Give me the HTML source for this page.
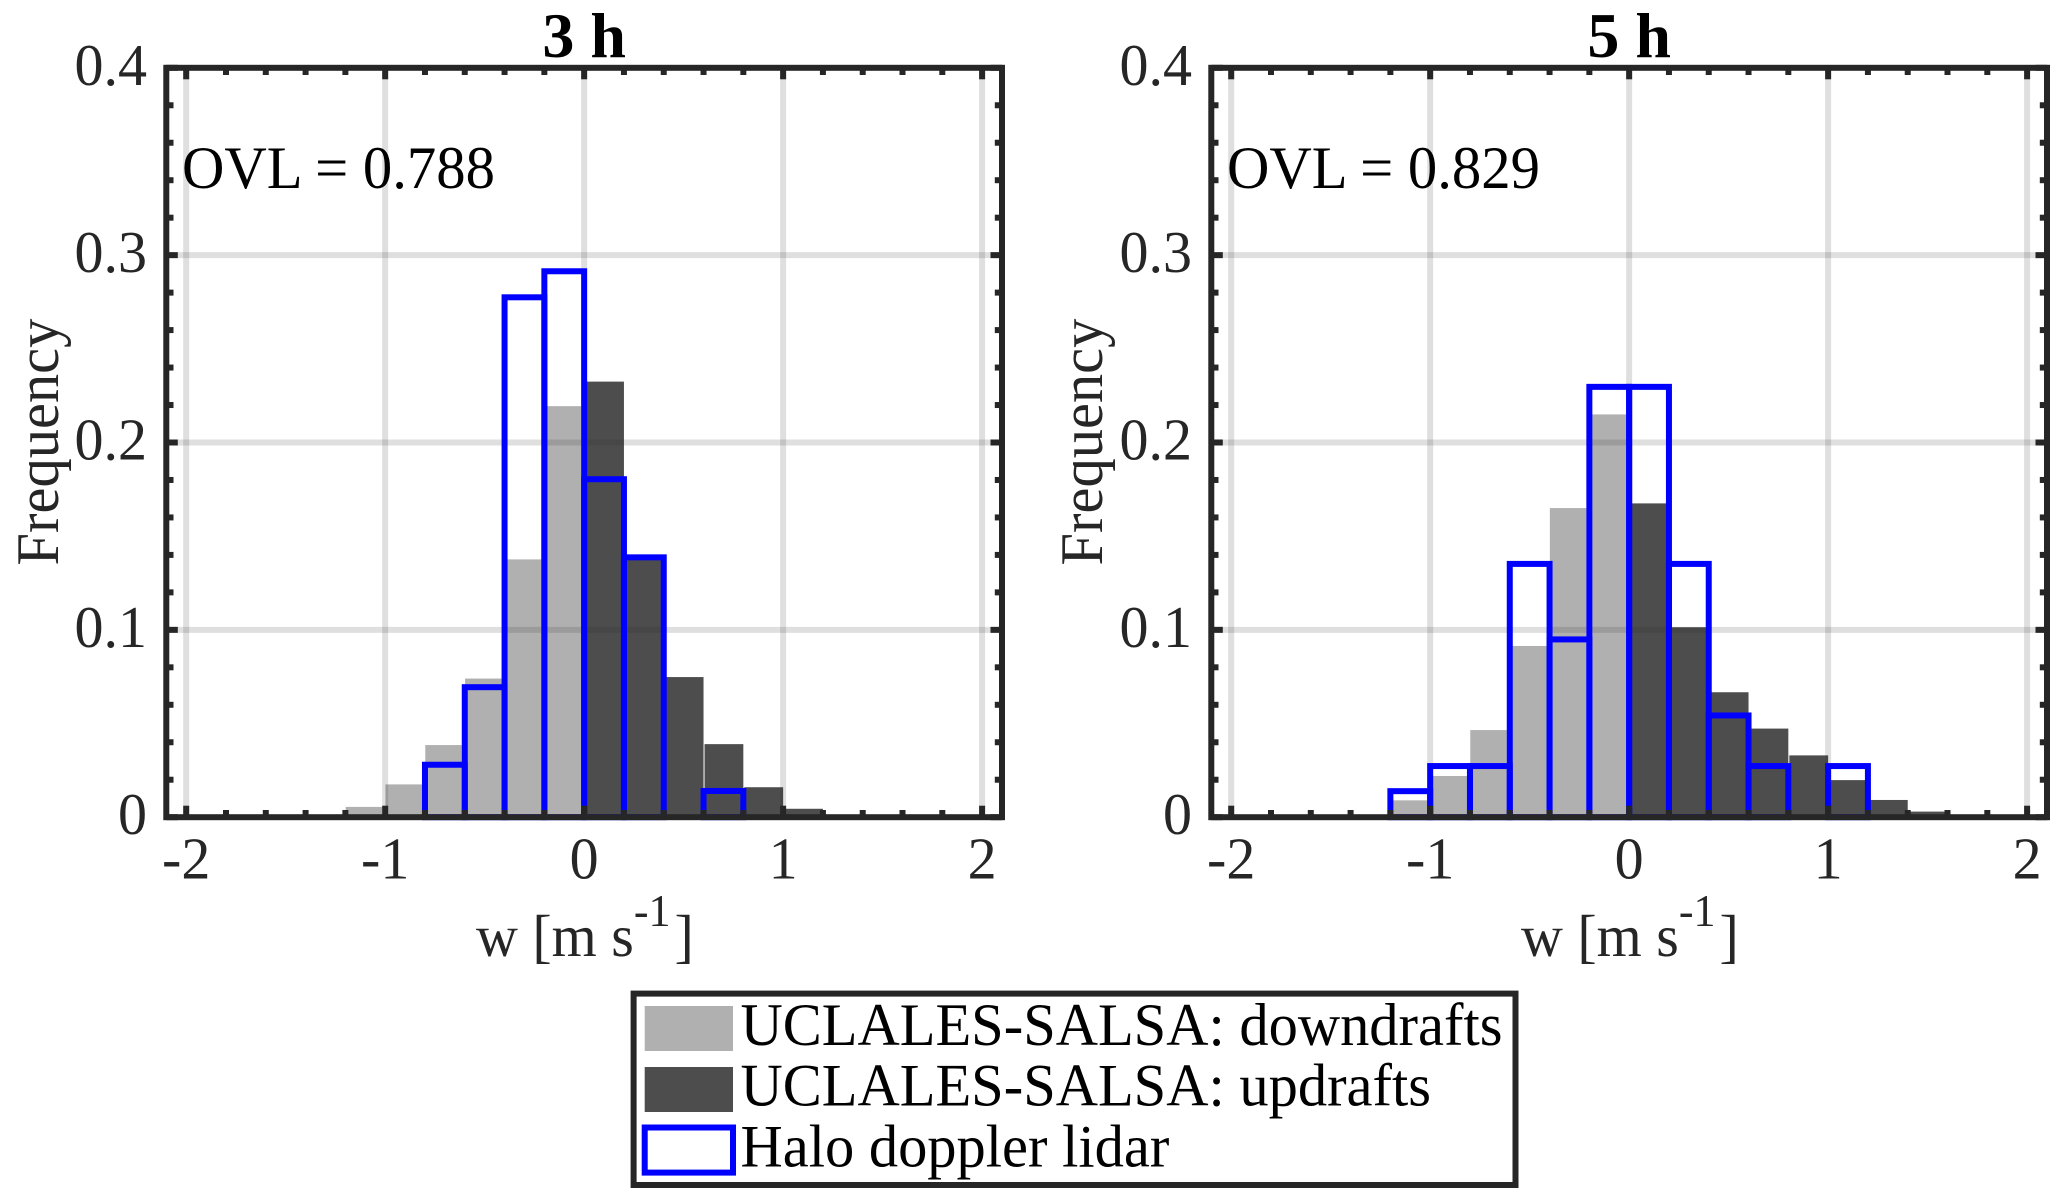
<!DOCTYPE html>
<html lang="en">
<head>
<meta charset="utf-8">
<title>Vertical velocity histograms</title>
<style>
html,body{margin:0;padding:0;background:#fff;}
svg{display:block;font-family:"Liberation Serif","DejaVu Serif",serif;}
</style>
</head>
<body>
<svg id="figure" xmlns="http://www.w3.org/2000/svg" width="2067" height="1199" viewBox="0 0 2067 1199">
  <rect x="0" y="0" width="2067" height="1199" fill="#ffffff"/>
  <g id="panels"></g>
  <g>
    <rect x="633.6" y="993.6" width="881.9" height="191.4" fill="#ffffff" stroke="#262626" stroke-width="6"/>
    <g>
      <rect x="644.7" y="1006" width="88.3" height="45" fill="#b0b0b0"/>
      <text transform="translate(740.5 1045) scale(1 1.03)" font-size="58.5" fill="#000000">UCLALES-SALSA: downdrafts</text>
    </g>
    <g>
      <rect x="644.7" y="1067" width="88.3" height="45" fill="#4d4d4d"/>
      <text transform="translate(740.5 1105.5) scale(1 1.03)" font-size="58.5" fill="#000000">UCLALES-SALSA: updrafts</text>
    </g>
    <g>
      <rect x="644.7" y="1127.5" width="88.3" height="45.1" fill="#ffffff" stroke="#0000ff" stroke-width="6"/>
      <text transform="translate(740.5 1166.5) scale(1 1.03)" font-size="58.5" fill="#000000">Halo doppler lidar</text>
    </g>
  </g>
</svg>
<script>
// ---- Chart data ----
const binEdges = [-2, -1.8, -1.6, -1.4, -1.2, -1, -0.8, -0.6, -0.4, -0.2, 0, 0.2, 0.4, 0.6, 0.8, 1, 1.2, 1.4, 1.6, 1.8, 2];
const panelTitles = ['3 h', '5 h'];
const ovlLabels = ['OVL = 0.788', 'OVL = 0.829'];
const down3h  = [0, 0, 0, 0, 0.0055, 0.0175, 0.0385, 0.074, 0.1376, 0.2194, 0, 0, 0, 0, 0, 0, 0, 0, 0, 0];
const up3h    = [0, 0, 0, 0, 0, 0, 0, 0, 0, 0, 0.2325, 0.1376, 0.0748, 0.039, 0.016, 0.0045, 0, 0, 0, 0];
const lidar3h = [0, 0, 0, 0, 0, 0, 0.028, 0.0694, 0.2775, 0.2914, 0.1804, 0.1387, 0, 0.014, 0, 0, 0, 0, 0, 0];
const down5h  = [0, 0, 0, 0.001, 0.009, 0.022, 0.0465, 0.0914, 0.165, 0.215, 0, 0, 0, 0, 0, 0, 0, 0, 0, 0];
const up5h    = [0, 0, 0, 0, 0, 0, 0, 0, 0, 0, 0.1675, 0.1014, 0.0667, 0.0473, 0.033, 0.0198, 0.0092, 0.003, 0, 0];
const lidar5h = [0, 0, 0, 0, 0.0139, 0.0273, 0.0273, 0.1352, 0.0949, 0.2297, 0.2297, 0.1352, 0.0543, 0.0273, 0, 0.0273, 0, 0, 0, 0];
const xTickValues = [-2, -1, 0, 1, 2];
const xTickLabels = ['-2', '-1', '0', '1', '2'];
const yTickValues = [0, 0.1, 0.2, 0.3, 0.4];
const yTickLabels = ['0', '0.1', '0.2', '0.3', '0.4'];
const xMinorTicks = [-1.8, -1.6, -1.4, -1.2, -0.8, -0.6, -0.4, -0.2, 0.2, 0.4, 0.6, 0.8, 1.2, 1.4, 1.6, 1.8];
const yMinorTicks = [0.02, 0.04, 0.06, 0.08, 0.12, 0.14, 0.16, 0.18, 0.22, 0.24, 0.26, 0.28, 0.32, 0.34, 0.36, 0.38];
const yLabelText = 'Frequency';

// ---- Axis functions ----
const NS = 'http://www.w3.org/2000/svg';
const xDomainMin = -2.1, xDomainMax = 2.1, yDomainMin = 0, yDomainMax = 0.4;
const plotLeft = 166.3, plotRight = 1002, plotTop = 67.8, plotBottom = 817.2, panelGap = 1045;
const textStretch = ' scale(1 1.03)';
function xScale(v, off) { return off + plotLeft + (v - xDomainMin) / (xDomainMax - xDomainMin) * (plotRight - plotLeft); }
function yScale(v) { return plotBottom - (v - yDomainMin) / (yDomainMax - yDomainMin) * (plotBottom - plotTop); }

function mk(tag, attrs, parent) {
  const el = document.createElementNS(NS, tag);
  for (const k in attrs) el.setAttribute(k, attrs[k]);
  parent.appendChild(el);
  return el;
}

function drawPanel(root, idx, off, down, up, lidar) {
  const g = mk('g', {}, root);
  
  

  // model bars
  down.forEach(function (v, i) {
    if (v <= 0) return;
    const x0 = xScale(binEdges[i], off), x1 = xScale(binEdges[i + 1], off);
    const r = mk('rect', { x: x0 + 0.3, y: yScale(v), width: x1 - x0 - 3.3, height: yScale(0) - yScale(v), fill: '#b0b0b0' }, g);
    
    
  });
  up.forEach(function (v, i) {
    if (v <= 0) return;
    const x0 = xScale(binEdges[i], off), x1 = xScale(binEdges[i + 1], off);
    const r = mk('rect', { x: x0 + 1, y: yScale(v), width: x1 - x0 - 1, height: yScale(0) - yScale(v), fill: '#4d4d4d' }, g);
    
    
  });

  // grid
  xTickValues.forEach(function (v) {
    const l = mk('line', { x1: xScale(v, off), x2: xScale(v, off), y1: plotTop, y2: plotBottom, stroke: '#262626', 'stroke-opacity': 0.15, 'stroke-width': 6 }, g);
    
    
  });
  yTickValues.slice(1, 4).forEach(function (v) {
    const l = mk('line', { x1: plotLeft + off, x2: plotRight + off, y1: yScale(v), y2: yScale(v), stroke: '#262626', 'stroke-opacity': 0.15, 'stroke-width': 6 }, g);
    
    
  });

  // lidar outline bars
  lidar.forEach(function (v, i) {
    if (v <= 0) return;
    const x0 = xScale(binEdges[i], off), x1 = xScale(binEdges[i + 1], off);
    const r = mk('rect', { x: x0, y: yScale(v), width: x1 - x0, height: yScale(0) - yScale(v), fill: 'none', stroke: '#0000ff', 'stroke-width': 6 }, g);
    
    
  });

  // ticks
  function xTick(v, len) {
    const x = xScale(v, off);
    const a = mk('line', { x1: x, x2: x, y1: plotBottom, y2: plotBottom - len, stroke: '#262626', 'stroke-width': 6 }, g);
    
    
    const b = mk('line', { x1: x, x2: x, y1: plotTop, y2: plotTop + len, stroke: '#262626', 'stroke-width': 6 }, g);
    
    
  }
  function yTick(v, len) {
    const y = yScale(v);
    const a = mk('line', { x1: plotLeft + off, x2: plotLeft + off + len, y1: y, y2: y, stroke: '#262626', 'stroke-width': 6 }, g);
    
    
    const b = mk('line', { x1: plotRight + off, x2: plotRight + off - len, y1: y, y2: y, stroke: '#262626', 'stroke-width': 6 }, g);
    
    
  }
  xTickValues.forEach(function (v) { xTick(v, 11.5); });
  xMinorTicks.forEach(function (v) { xTick(v, 7.2); });
  yTickValues.forEach(function (v) { yTick(v, 11.5); });
  yMinorTicks.forEach(function (v) { yTick(v, 7.2); });

  // frame
  const frame = mk('rect', { x: plotLeft + off, y: plotTop, width: plotRight - plotLeft, height: plotBottom - plotTop, fill: 'none', stroke: '#262626', 'stroke-width': 6 }, g);
  
  

  // tick labels
  xTickValues.forEach(function (v, i) {
    const t = mk('text', { transform: 'translate(' + xScale(v, off) + ' 878.5)' + textStretch, 'font-size': 58, fill: '#262626', 'text-anchor': 'middle' }, g);
    t.textContent = xTickLabels[i];
    
    
  });
  yTickValues.forEach(function (v, i) {
    const t = mk('text', { transform: 'translate(' + (off + 147) + ' ' + (yScale(v) + 17) + ')' + textStretch, 'font-size': 58, fill: '#262626', 'text-anchor': 'end' }, g);
    t.textContent = yTickLabels[i];
    
    
  });

  // title
  const title = mk('text', { x: xScale(0, off), y: 57, 'font-size': 64, 'font-weight': 'bold', fill: '#000000', 'text-anchor': 'middle' }, g);
  title.textContent = panelTitles[idx];
  
  

  // OVL annotation
  const ovl = mk('text', { transform: 'translate(' + (off + 182) + ' 188)' + textStretch, 'font-size': 58.7, fill: '#000000' }, g);
  ovl.textContent = ovlLabels[idx];
  
  

  // y-axis title
  const yl = mk('text', { x: 0, y: 0, transform: 'translate(' + (off + 58 - idx) + ' 565.5) rotate(-90) scale(1 1.03)', 'font-size': 58.5, fill: '#262626' }, g);
  yl.textContent = yLabelText;
  
  

  // x-axis title
  const xl = mk('text', { transform: 'translate(' + (off + 476) + ' 956)' + textStretch, 'font-size': 58, fill: '#262626' }, g);
  
  
  const s1 = mk('tspan', {}, xl);
  s1.textContent = 'w [m s';
  const s2 = mk('tspan', { 'font-size': 44, dy: -29 }, xl);
  s2.textContent = '-1';
  const s3 = mk('tspan', { dy: 29, dx: 4 }, xl);
  s3.textContent = ']';
}

const panelsRoot = document.getElementById('panels');
drawPanel(panelsRoot, 0, 0, down3h, up3h, lidar3h);
drawPanel(panelsRoot, 1, panelGap, down5h, up5h, lidar5h);
</script>
</body>
</html>
